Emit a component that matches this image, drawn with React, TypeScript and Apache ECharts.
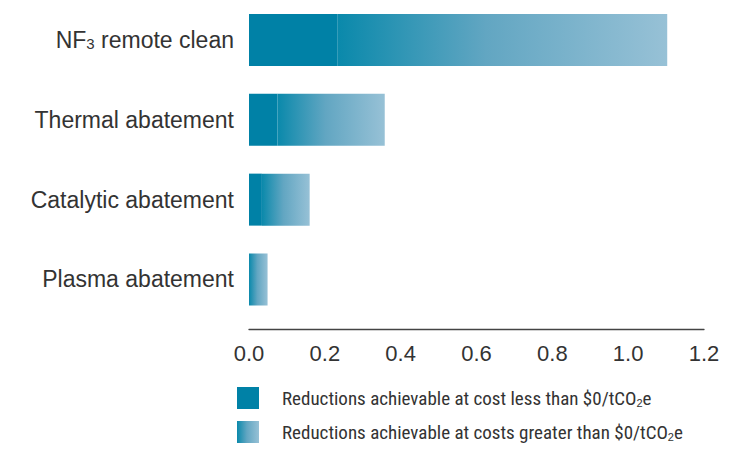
import React, { useEffect, useRef } from "react";
import * as echarts from "echarts";

const categories = ["NF3 remote clean", "Thermal abatement", "Catalytic abatement", "Plasma abatement"];
const lessThanZero = [0.234, 0.075, 0.034, 0];
const greaterThanZero = [0.869, 0.283, 0.126, 0.049];
const xTicks = [0, 0.2, 0.4, 0.6, 0.8, 1.0, 1.2];
const seriesNames = [
  "Reductions achievable at cost less than $0/tCO2e",
  "Reductions achievable at costs greater than $0/tCO2e",
];

export default function App() {
  const ref = useRef<HTMLDivElement>(null);
  useEffect(() => {
    if (!ref.current) return;
    const chart = echarts.init(ref.current, null, { renderer: "svg" });
    const textColor = "#333333";
    chart.setOption({
      animation: false,
      grid: { left: 249, right: 25, top: -3, height: 322.4 },
      legend: {
        orient: "vertical",
        left: 237,
        top: 387,
        padding: 0,
        itemWidth: 22,
        itemHeight: 22,
        itemGap: 12,
        icon: "rect",
        data: seriesNames,
        formatter: (name: string) => name.replace("CO2e", "CO{sub|2}e"),
        textStyle: {
          fontFamily: "'Liberation Sans Narrow', 'Roboto Condensed', 'Liberation Sans', sans-serif",
          fontSize: 19,
          color: textColor,
          padding: [0, 0, 0, 18],
          rich: {
            sub: {
              fontFamily: "'Liberation Sans Narrow', 'Liberation Sans', sans-serif",
              fontSize: 11,
              color: textColor,
              padding: [9, 0, 0, 0],
            },
          },
        },
      },
      xAxis: {
        type: "value",
        min: xTicks[0],
        max: xTicks[xTicks.length - 1],
        interval: 0.2,
        offset: 10,
        axisLine: { show: true, lineStyle: { color: "#444444", width: 1.3 } },
        axisTick: { show: false },
        splitLine: { show: false },
        axisLabel: {
          margin: 13,
          fontSize: 22,
          fontFamily: "'Liberation Sans', Arial, sans-serif",
          color: textColor,
          formatter: (v: number) => v.toFixed(1),
        },
      },
      yAxis: {
        type: "category",
        data: categories,
        inverse: true,
        axisLine: { show: false },
        axisTick: { show: false },
        axisLabel: {
          margin: 15,
          fontSize: 23,
          fontFamily: "'Liberation Sans', Arial, sans-serif",
          color: textColor,
          formatter: (v: string) => v.replace("NF3", "NF{sub|3}"),
          rich: {
            sub: {
              fontSize: 15,
              fontFamily: "'Liberation Sans', Arial, sans-serif",
              color: textColor,
              padding: [8, 0, 0, 0],
            },
          },
        },
      },
      series: [
        {
          name: seriesNames[0],
          type: "bar",
          stack: "total",
          barWidth: 52,
          data: lessThanZero,
          itemStyle: { color: "#0081a6" },
        },
        {
          name: seriesNames[1],
          type: "bar",
          stack: "total",
          barWidth: 52,
          data: greaterThanZero,
          itemStyle: {
            color: new echarts.graphic.LinearGradient(0, 0, 1, 0, [
              { offset: 0, color: "#0a89ab" },
              { offset: 0.45, color: "#62a6c2" },
              { offset: 1, color: "#97c1d6" },
            ]),
          },
        },
      ],
    });
    return () => chart.dispose();
  }, []);
  return (
    <div
      ref={ref}
      style={{ position: "absolute", left: 0, top: 0, width: 729, height: 449 }}
    />
  );
}
